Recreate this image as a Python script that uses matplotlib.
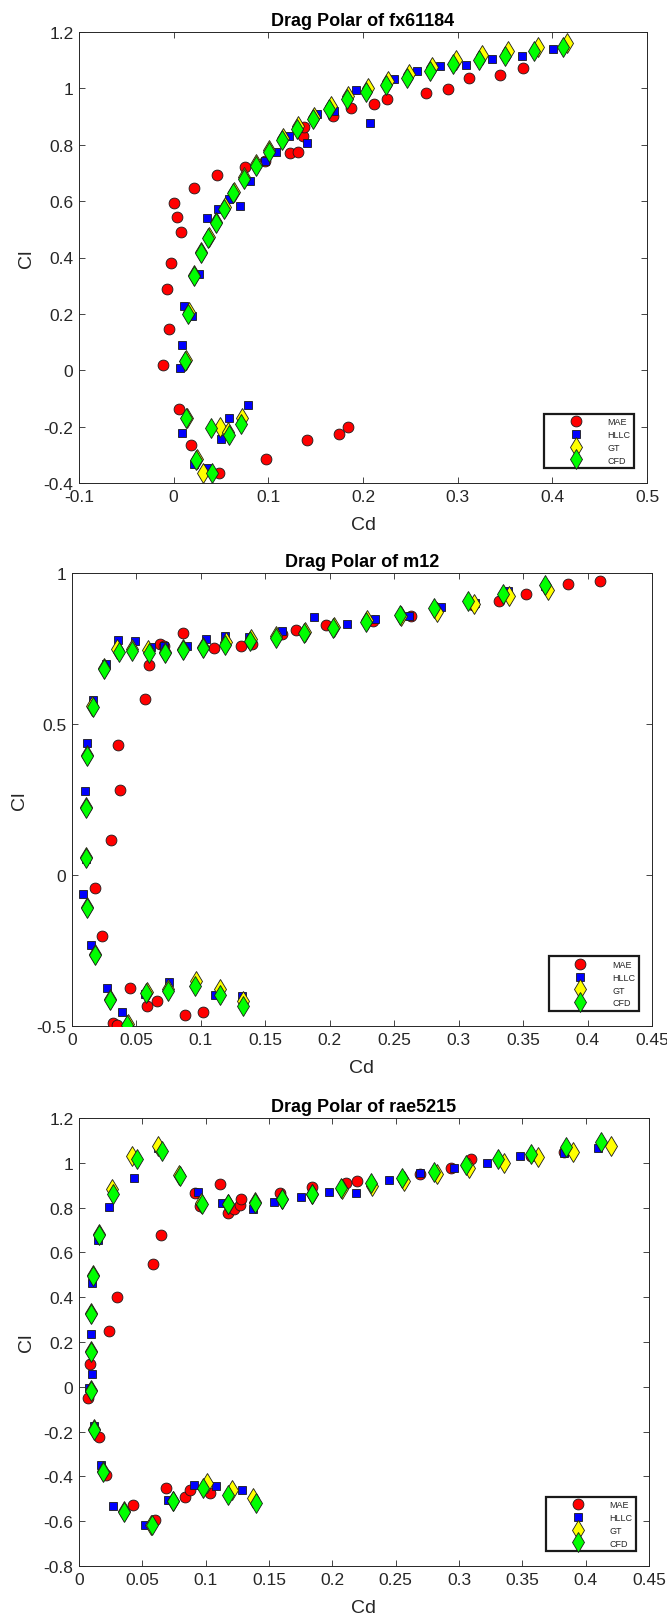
import matplotlib
matplotlib.use("Agg")
import matplotlib.pyplot as plt
from matplotlib.lines import Line2D
from matplotlib.ticker import FuncFormatter

plt.rcParams['font.family'] = ['Liberation Sans', 'DejaVu Sans']
plt.rcParams['axes.unicode_minus'] = False

# ---------------- Panel 1: fx61184 ----------------
mae1_cd = [-0.0113, -0.0046, -0.007, -0.003, 0.008, 0.004, 0.0004, 0.022, 0.046, 0.075, 0.0965,
           0.123, 0.131, 0.137, 0.138, 0.1685, 0.1875, 0.2115, 0.225, 0.267, 0.2895, 0.3115, 0.345, 0.3687,
           0.006, 0.018, 0.048, 0.0975, 0.141, 0.1747, 0.1844]
mae1_cl = [0.018, 0.148, 0.289, 0.379, 0.491, 0.542, 0.592, 0.648, 0.692, 0.720, 0.741,
           0.771, 0.776, 0.830, 0.862, 0.903, 0.930, 0.946, 0.961, 0.982, 0.998, 1.037, 1.047, 1.072,
           -0.139, -0.266, -0.364, -0.315, -0.248, -0.225, -0.2006]

hllc1_cd = [0.0067, 0.0085, 0.0113, 0.0194, 0.0268, 0.035, 0.047, 0.058, 0.070, 0.081, 0.0965, 0.108,
            0.122, 0.141, 0.151, 0.169, 0.1923, 0.2072, 0.2329, 0.2574, 0.281, 0.309, 0.3358, 0.3682, 0.4007,
            0.0092, 0.0218, 0.0352, 0.0504, 0.0588, 0.078]
hllc1_cl = [0.008, 0.091, 0.228, 0.194, 0.342, 0.541, 0.573, 0.608, 0.581, 0.672, 0.741, 0.773,
            0.830, 0.805, 0.909, 0.921, 0.9945, 0.878, 1.034, 1.061, 1.078, 1.083, 1.105, 1.116, 1.138,
            -0.221, -0.331, -0.346, -0.244, -0.171, -0.122]

gt1_cd = [0.0128, 0.0160, 0.0216, 0.0290, 0.0368, 0.0452, 0.0540, 0.0636, 0.0746, 0.0873, 0.1012, 0.1153,
          0.1310, 0.1482, 0.1657, 0.1846, 0.2053, 0.2266, 0.2485, 0.2733, 0.2978, 0.3254, 0.3534, 0.3848, 0.4155,
          0.0140, 0.0250, 0.0310, 0.0490, 0.0577, 0.0718]
gt1_cl = [0.036, 0.205, 0.338, 0.421, 0.474, 0.526, 0.578, 0.633, 0.686, 0.733, 0.780, 0.825,
          0.866, 0.900, 0.937, 0.972, 1.000, 1.025, 1.050, 1.076, 1.100, 1.117, 1.132, 1.148, 1.160,
          -0.168, -0.314, -0.366, -0.200, -0.220, -0.168]

cfd1_cd = [0.0123, 0.0155, 0.0211, 0.0285, 0.0363, 0.0447, 0.0535, 0.063, 0.074, 0.0866, 0.1004, 0.1144,
           0.130, 0.147, 0.1644, 0.183, 0.2036, 0.2246, 0.2463, 0.2708, 0.2952, 0.3224, 0.350, 0.3807, 0.4109,
           0.0134, 0.024, 0.0408, 0.0394, 0.0584, 0.0707]
cfd1_cl = [0.033, 0.201, 0.334, 0.416, 0.469, 0.521, 0.573, 0.628, 0.679, 0.726, 0.773, 0.817,
           0.857, 0.891, 0.927, 0.961, 0.988, 1.013, 1.037, 1.062, 1.086, 1.102, 1.116, 1.133, 1.147,
           -0.171, -0.318, -0.366, -0.205, -0.230, -0.189]

# ---------------- Panel 2: m12 ----------------
mae2_cd = [0.018, 0.023, 0.030, 0.036, 0.037, 0.057, 0.060, 0.068, 0.071, 0.086, 0.110, 0.1315, 0.140,
           0.163, 0.174, 0.197, 0.2338, 0.263, 0.311, 0.331, 0.3526, 0.3848, 0.4096,
           0.032, 0.0346, 0.045, 0.0585, 0.066, 0.088, 0.102]
mae2_cl = [-0.044, -0.203, 0.117, 0.430, 0.280, 0.583, 0.695, 0.765, 0.757, 0.800, 0.751, 0.757, 0.765,
           0.797, 0.812, 0.828, 0.842, 0.858, 0.895, 0.908, 0.932, 0.9625, 0.974,
           -0.490, -0.497, -0.375, -0.435, -0.416, -0.464, -0.453]

hllc2_cd = [0.0082, 0.011, 0.0103, 0.0115, 0.0164, 0.026, 0.0354, 0.049, 0.061, 0.0715, 0.089, 0.104,
            0.1185, 0.1374, 0.1633, 0.1874, 0.213, 0.235, 0.2616, 0.2864, 0.313, 0.338, 0.3666,
            0.0149, 0.0274, 0.0385, 0.057, 0.075, 0.111, 0.132]
hllc2_cl = [-0.064, 0.053, 0.277, 0.438, 0.581, 0.699, 0.779, 0.774, 0.754, 0.759, 0.759, 0.781,
            0.793, 0.787, 0.809, 0.853, 0.832, 0.849, 0.858, 0.889, 0.900, 0.940, 0.957,
            -0.232, -0.374, -0.455, -0.394, -0.355, -0.397, -0.400]

gt2_cd = [0.0110, 0.0107, 0.0117, 0.0158, 0.0248, 0.0350, 0.0462, 0.0590, 0.0720, 0.0858, 0.1013, 0.1195,
          0.1385, 0.1585, 0.1807, 0.2035, 0.2290, 0.2555, 0.2830, 0.3120, 0.3390, 0.3690,
          0.0117, 0.0182, 0.0297, 0.0432, 0.0580, 0.0748, 0.0962, 0.1150, 0.1326]
gt2_cl = [0.058, 0.226, 0.398, 0.560, 0.686, 0.750, 0.748, 0.745, 0.740, 0.750, 0.754, 0.770,
          0.780, 0.790, 0.806, 0.820, 0.843, 0.858, 0.872, 0.897, 0.923, 0.945,
          -0.107, -0.262, -0.410, -0.494, -0.388, -0.378, -0.350, -0.377, -0.416]

cfd2_cd = [0.0108, 0.0105, 0.0115, 0.016, 0.025, 0.0364, 0.0467, 0.0595, 0.0723, 0.086, 0.1015, 0.1187,
           0.138, 0.158, 0.180, 0.2026, 0.2278, 0.2543, 0.281, 0.3076, 0.3344, 0.3666,
           0.0115, 0.018, 0.0295, 0.043, 0.0577, 0.0744, 0.0956, 0.1149, 0.1326]
cfd2_cl = [0.055, 0.223, 0.395, 0.556, 0.682, 0.740, 0.741, 0.735, 0.735, 0.746, 0.751, 0.762,
           0.774, 0.785, 0.800, 0.818, 0.8375, 0.860, 0.885, 0.908, 0.932, 0.960,
           -0.110, -0.265, -0.413, -0.497, -0.392, -0.383, -0.366, -0.397, -0.435]

# ---------------- Panel 3: rae5215 ----------------
mae3_cd = [0.0068, 0.0087, 0.0237, 0.0297, 0.0587, 0.065, 0.0916, 0.0955, 0.111, 0.118, 0.122, 0.127,
           0.128, 0.159, 0.184, 0.211, 0.2196, 0.269, 0.294, 0.3095, 0.3567, 0.383,
           0.016, 0.0213, 0.0424, 0.060, 0.069, 0.0837, 0.0876, 0.1034]
mae3_cl = [-0.052, 0.101, 0.249, 0.400, 0.548, 0.677, 0.864, 0.807, 0.907, 0.778, 0.793, 0.812,
           0.837, 0.867, 0.892, 0.911, 0.919, 0.950, 0.976, 1.018, 1.030, 1.046,
           -0.222, -0.394, -0.529, -0.596, -0.452, -0.492, -0.459, -0.474]

hllc3_cd = [0.0082, 0.010, 0.0095, 0.0105, 0.0147, 0.024, 0.0434, 0.062, 0.094, 0.113, 0.137, 0.154,
            0.175, 0.197, 0.219, 0.2449, 0.269, 0.2964, 0.3223, 0.348, 0.3826, 0.4096,
            0.0118, 0.0171, 0.0271, 0.052, 0.070, 0.091, 0.108, 0.1287]
hllc3_cl = [-0.007, 0.059, 0.234, 0.464, 0.656, 0.804, 0.930, 1.064, 0.871, 0.819, 0.793, 0.827,
            0.847, 0.871, 0.865, 0.922, 0.953, 0.978, 1.001, 1.030, 1.042, 1.066,
            -0.175, -0.351, -0.533, -0.619, -0.507, -0.437, -0.444, -0.459]

gt3_cd = [0.0097, 0.0097, 0.0097, 0.0110, 0.0158, 0.0258, 0.0415, 0.0626, 0.0788, 0.0965, 0.1178, 0.1390,
          0.1605, 0.1840, 0.2075, 0.2314, 0.2567, 0.2826, 0.3080, 0.3358, 0.3624, 0.3900, 0.4197,
          0.0116, 0.0190, 0.0353, 0.0572, 0.0745, 0.1008, 0.1210, 0.1370]
gt3_cl = [-0.015, 0.160, 0.330, 0.500, 0.682, 0.881, 1.030, 1.076, 0.945, 0.822, 0.818, 0.826,
          0.840, 0.862, 0.884, 0.896, 0.919, 0.950, 0.976, 0.999, 1.027, 1.050, 1.076,
          -0.190, -0.377, -0.556, -0.615, -0.508, -0.430, -0.459, -0.496]

cfd3_cd = [0.0095, 0.0095, 0.0095, 0.0108, 0.016, 0.027, 0.0455, 0.0653, 0.080, 0.097, 0.118, 0.139,
           0.160, 0.1837, 0.2068, 0.2304, 0.2553, 0.280, 0.3055, 0.331, 0.357, 0.3846, 0.4123,
           0.0118, 0.0192, 0.0355, 0.0574, 0.0745, 0.098, 0.118, 0.140]
cfd3_cl = [-0.019, 0.156, 0.326, 0.496, 0.677, 0.859, 1.019, 1.053, 0.939, 0.818, 0.815, 0.822,
           0.837, 0.859, 0.886, 0.911, 0.933, 0.961, 0.9915, 1.016, 1.041, 1.069, 1.092,
           -0.193, -0.381, -0.560, -0.619, -0.511, -0.452, -0.484, -0.519]

titles = ["Drag Polar of fx61184", "Drag Polar of m12", "Drag Polar of rae5215"]
series_names = ["MAE", "HLLC", "GT", "CFD"]
xlims = [(-0.1, 0.5), (0, 0.45), (0, 0.45)]
ylims = [(-0.4, 1.2), (-0.5, 1.0), (-0.8, 1.2)]
xticks = [[-0.1, 0, 0.1, 0.2, 0.3, 0.4, 0.5],
          [0, 0.05, 0.1, 0.15, 0.2, 0.25, 0.3, 0.35, 0.4, 0.45],
          [0, 0.05, 0.1, 0.15, 0.2, 0.25, 0.3, 0.35, 0.4, 0.45]]
yticks = [[-0.4, -0.2, 0, 0.2, 0.4, 0.6, 0.8, 1, 1.2],
          [-0.5, 0, 0.5, 1],
          [-0.8, -0.6, -0.4, -0.2, 0, 0.2, 0.4, 0.6, 0.8, 1, 1.2]]

panels = [
    (mae1_cd, mae1_cl, hllc1_cd, hllc1_cl, gt1_cd, gt1_cl, cfd1_cd, cfd1_cl),
    (mae2_cd, mae2_cl, hllc2_cd, hllc2_cl, gt2_cd, gt2_cl, cfd2_cd, cfd2_cl),
    (mae3_cd, mae3_cl, hllc3_cd, hllc3_cl, gt3_cd, gt3_cl, cfd3_cd, cfd3_cl),
]

# axes boxes in pixels: left, top, right, bottom
W, H = 667, 1624
boxes = [(79, 33, 647, 484), (72, 574, 652, 1027), (79, 1119, 649, 1567)]

styles = [
    dict(marker='o', markersize=7.8, markerfacecolor=(1, 0, 0)),
    dict(marker='s', markersize=5.5, markerfacecolor=(0, 0, 1)),
    dict(marker='d', markersize=10.5, markerfacecolor=(1, 1, 0)),
    dict(marker='d', markersize=10.5, markerfacecolor=(0, 1, 0)),
]

def fmt(v, pos):
    s = f"{v:.2f}".rstrip('0').rstrip('.')
    if s in ("-0", ""):
        s = "0"
    return s

fig = plt.figure(figsize=(W / 100, H / 100), dpi=100)
fig.patch.set_facecolor('white')
tick_col = '#262626'

for i, (box, data) in enumerate(zip(boxes, panels)):
    l, t, r, b = box
    ax = fig.add_axes([l / W, 1 - b / H, (r - l) / W, (b - t) / H])
    for k in range(4):
        xs, ys = data[2 * k], data[2 * k + 1]
        ax.plot(xs, ys, linestyle='none', markeredgecolor='#1a1a1a',
                markeredgewidth=0.6, zorder=3 + k, **styles[k])
    ax.set_xlim(*xlims[i])
    ax.set_ylim(*ylims[i])
    ax.set_xticks(xticks[i])
    ax.set_yticks(yticks[i])
    ax.xaxis.set_major_formatter(FuncFormatter(fmt))
    ax.yaxis.set_major_formatter(FuncFormatter(fmt))
    ax.tick_params(direction='in', top=True, right=True, length=4, width=0.6,
                   colors=tick_col, labelsize=12.5, pad=4)
    for sp in ax.spines.values():
        sp.set_color(tick_col)
        sp.set_linewidth(0.7)
    ax.set_title(titles[i], fontsize=13, fontweight='bold', color='black', pad=5)
    ax.set_xlabel('Cd', fontsize=14, color=tick_col, labelpad=9)
    ax.set_ylabel('Cl', fontsize=14, color=tick_col, labelpad=6)

    handles = [Line2D([], [], linestyle='none', markeredgecolor='#1a1a1a',
                      markeredgewidth=0.6, **styles[k]) for k in range(4)]
    leg = ax.legend(handles, series_names, loc='lower right',
                    bbox_to_anchor=(0.977, 0.033), fontsize=6.5,
                    handlelength=6.2, handletextpad=0.4, borderpad=0.4,
                    labelspacing=0.42, fancybox=False, framealpha=1,
                    edgecolor='#1a1a1a', borderaxespad=0)
    leg.get_frame().set_linewidth(1.6)
    for txt in leg.get_texts():
        txt.set_color(tick_col)

fig.savefig('out.png', dpi=100, facecolor='white')
